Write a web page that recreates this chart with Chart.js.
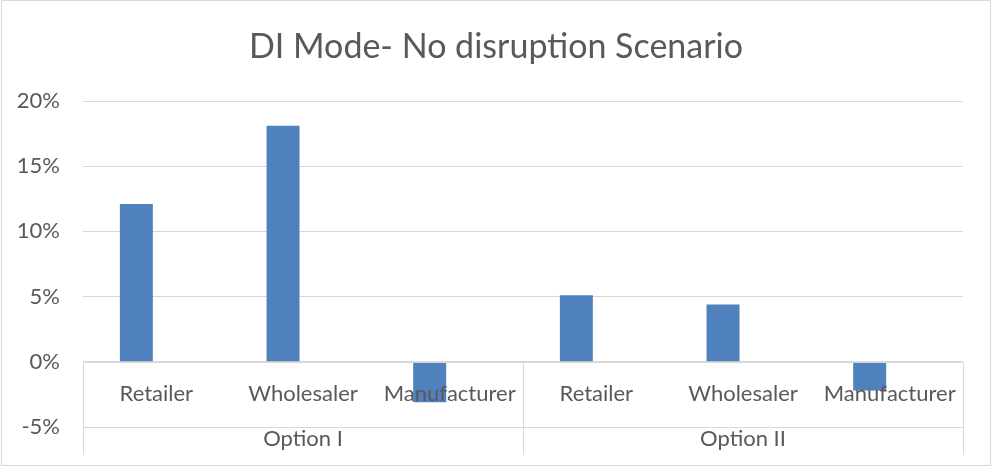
<!DOCTYPE html>
<html lang="en">
<head>
<meta charset="UTF-8">
<title>DI Mode- No disruption Scenario</title>
<script src="https://cdn.jsdelivr.net/npm/chart.js"></script>
<style>
    body { margin: 0; background: #fff; }
    .chart-container { position: relative; width: 992px; height: 468px; }
</style>
</head>
<body>
<div class="chart-container">
    <canvas id="diChart"></canvas>
</div>
<script>
    const chartTitle = "DI Mode- No disruption Scenario";
    const roles = ["Retailer", "Wholesaler", "Manufacturer"];
    const optionNames = ["Option I", "Option II"];
    const optionIValues = [12.1, 18.1, -3.1];
    const optionIIValues = [5.1, 4.4, -2.2];
    // the source sheet has a second, empty series that keeps the bars off-centre
    const emptySeries = [null, null, null, null, null, null];
    const yMin = -5, yMax = 20, yStep = 5;

    const labels = [];
    const values = [];
    [optionIValues, optionIIValues].forEach(vals => {
        roles.forEach((r, i) => { labels.push(r); values.push(vals[i]); });
    });

    const FONT = "Lato, 'Liberation Sans', sans-serif";
    const GRID = "#d9d9d9";
    const TEXT = "#595959";

    // multi-level category axis drawn at the 0 line, Excel style
    const categoryBoxes = {
        id: "categoryBoxes",
        afterDatasetsDraw(chart) {
            const { ctx, chartArea, scales: { x, y } } = chart;
            const zeroY = Math.round(y.getPixelForValue(0)) + 0.5;
            const bottom = chartArea.bottom + 28;
            const slot = (chartArea.right - chartArea.left) / labels.length;
            ctx.save();
            ctx.strokeStyle = GRID;
            ctx.lineWidth = 1;
            ctx.beginPath();
            ctx.moveTo(chartArea.left, zeroY);
            ctx.lineTo(chartArea.right, zeroY);
            for (let g = 0; g <= optionNames.length; g++) {
                const px = Math.round(chartArea.left + g * roles.length * slot) + 0.5;
                ctx.moveTo(px, zeroY);
                ctx.lineTo(px, bottom);
            }
            ctx.stroke();

            ctx.fillStyle = TEXT;
            ctx.font = "22px " + FONT;
            ctx.textAlign = "center";
            ctx.textBaseline = "middle";
            const labelY = (y.getPixelForValue(0) + y.getPixelForValue(yMin)) / 2;
            labels.forEach((l, i) => ctx.fillText(l, x.getPixelForValue(i), labelY));
            optionNames.forEach((o, g) => {
                const cx = chartArea.left + (g + 0.5) * roles.length * slot;
                ctx.fillText(o, cx, chartArea.bottom + 12);
            });
            ctx.restore();
        },
        afterDraw(chart) {
            const { ctx, width, height } = chart;
            ctx.save();
            ctx.strokeStyle = GRID;
            ctx.strokeRect(1.5, 0.5, width - 3, height - 3);
            // title centred on the whole chart, not the plot area
            ctx.fillStyle = TEXT;
            ctx.font = "34px " + FONT;
            ctx.textAlign = "center";
            ctx.textBaseline = "middle";
            ctx.fillText(chartTitle, width / 2, 47);
            ctx.restore();
        }
    };

    new Chart(document.getElementById("diChart"), {
        type: "bar",
        data: {
            labels: labels,
            datasets: [{
                data: values,
                backgroundColor: "#4f81bd"
            }, {
                data: emptySeries,
                backgroundColor: "#c0504d"
            }]
        },
        options: {
            responsive: true,
            maintainAspectRatio: false,
            animation: false,
            categoryPercentage: 0.545,
            barPercentage: 0.825,
            layout: { padding: { top: 101, left: 0, right: 29, bottom: 41 } },
            plugins: {
                legend: { display: false },
                tooltip: { enabled: false },
                title: { display: false }
            },
            scales: {
                x: { display: false },
                y: {
                    min: yMin,
                    max: yMax,
                    afterFit: scale => { scale.width = 83; },
                    border: { display: false },
                    grid: { color: GRID, drawTicks: false },
                    ticks: {
                        stepSize: yStep,
                        padding: 23,
                        color: TEXT,
                        font: { family: FONT, size: 22 },
                        callback: v => v + "%"
                    }
                }
            }
        },
        plugins: [categoryBoxes]
    });
</script>
</body>
</html>
